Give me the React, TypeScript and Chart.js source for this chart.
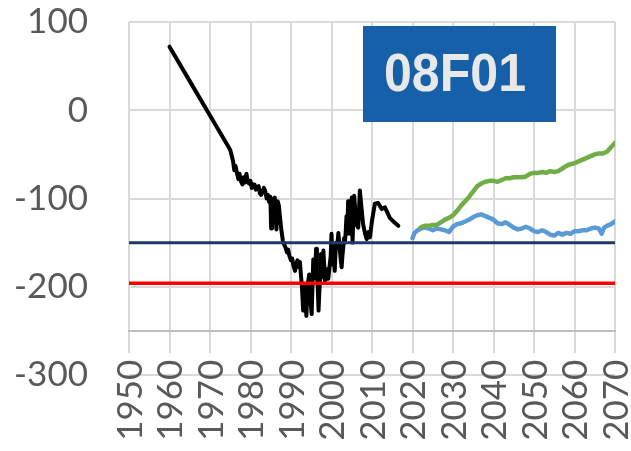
import { useEffect, useRef } from 'react';
import { Chart, registerables } from 'chart.js';

Chart.register(...registerables);

// ---------- data ----------
const yearTicks = [1950, 1960, 1970, 1980, 1990, 2000, 2010, 2020, 2030, 2040, 2050, 2060, 2070];
const valueTicks = [-300, -200, -100, 0, 100];
const axisCrossValue = -250;

const historyYears = [
  1960, 1965, 1970, 1974, 1975, 1975.4, 1975.7, 1976, 1976.3, 1976.6, 1977, 1977.3, 1977.6, 1978,
  1978.3, 1978.6, 1979, 1979.3, 1979.6, 1980, 1980.3, 1980.6, 1981, 1981.3, 1981.6, 1982, 1982.3,
  1982.6, 1983, 1983.3, 1983.6, 1984, 1984.3, 1984.6, 1984.9, 1985.1, 1985.3, 1985.5, 1985.7,
  1986, 1986.2, 1986.4, 1986.7, 1987, 1987.3, 1987.6, 1988, 1988.3, 1988.6, 1989, 1989.3, 1989.6,
  1990, 1990.3, 1990.6, 1991, 1991.3, 1991.6, 1992, 1992.2, 1992.4, 1992.7, 1993, 1993.2, 1993.4,
  1993.6, 1993.8, 1994, 1994.2, 1994.5, 1994.7, 1994.9, 1995.1, 1995.3, 1995.5, 1995.7, 1995.9,
  1996.2, 1996.4, 1996.6, 1996.8, 1997, 1997.2, 1997.4, 1997.6, 1997.8, 1998, 1998.2, 1998.4,
  1998.7, 1999, 1999.2, 1999.5, 1999.8, 2000, 2000.2, 2000.4, 2000.6, 2000.8, 2001, 2001.2,
  2001.4, 2001.7, 2001.9, 2002.1, 2002.3, 2002.5, 2002.7, 2002.9, 2003.1, 2003.3, 2003.5,
  2003.7, 2003.9, 2004.1, 2004.3, 2004.5, 2004.8, 2005, 2005.2, 2005.4, 2005.6, 2005.9, 2006.2,
  2006.6, 2007, 2007.4, 2007.8, 2008.3, 2008.7, 2009.1, 2009.5, 2010, 2010.7, 2011.5, 2012.4,
  2013.2, 2014.4, 2015.5, 2016.5,
];
const historyValues = [
  72, 33, -6, -37, -45, -52, -58, -68, -63, -70, -78, -72, -80, -84,
  -76, -82, -72, -80, -83, -80, -88, -84, -84, -90, -87, -86, -94,
  -96, -92, -88, -91, -100, -96, -104, -98, -134, -108, -101, -106,
  -99, -120, -135, -103, -108, -122, -135, -148, -152, -155, -161, -158, -165,
  -170, -168, -176, -182, -174, -170, -178, -172, -184, -200, -227, -205, -200,
  -222, -233, -210, -195, -186, -205, -220, -231, -200, -169, -185, -190,
  -157, -185, -200, -227, -205, -190, -163, -175, -185, -159, -175, -193,
  -185, -180, -191, -178, -165, -140, -160, -175, -168, -182, -160, -150,
  -155, -139, -150, -160, -170, -178, -165, -156, -145, -150, -138,
  -120, -140, -103, -115, -140, -125, -99, -150, -120, -97, -115, -130,
  -133, -91, -110, -129, -140, -146, -138, -144, -125, -106, -105, -112,
  -110, -122, -127, -131,
];

const blueYears = [
  2020, 2020.5, 2021, 2022, 2023, 2024, 2025, 2026, 2027, 2028, 2029, 2030, 2031, 2032, 2033,
  2034, 2035, 2036, 2037, 2038, 2039, 2040, 2041, 2042, 2043, 2044, 2045, 2046, 2047, 2048,
  2049, 2050, 2051, 2052, 2053, 2054, 2055, 2056, 2057, 2058, 2059, 2060, 2061, 2062, 2063,
  2064, 2065, 2066, 2066.7, 2067.3, 2068, 2069, 2070,
];
const blueValues = [
  -145, -139, -137, -134, -133, -134, -136, -134, -135, -136, -138, -132, -129, -128, -126,
  -124, -121, -119, -118, -120, -122, -124, -128, -129, -127, -130, -133, -135, -134, -132,
  -134, -137, -138, -136, -138, -141, -142, -139, -141, -139, -140, -137, -137, -136, -136,
  -134, -133, -134, -140, -133, -131, -129, -126,
];

const greenYears = [
  2022, 2023, 2024, 2025, 2026, 2027, 2028, 2029, 2030, 2031, 2032, 2033, 2034, 2035, 2036,
  2037, 2038, 2039, 2040, 2041, 2042, 2043, 2044, 2045, 2046, 2047, 2048, 2049, 2050, 2051,
  2052, 2053, 2054, 2055, 2056, 2057, 2058, 2059, 2060, 2061, 2062, 2063, 2064, 2065, 2066,
  2067, 2068, 2069, 2070,
];
const greenValues = [
  -133, -131, -131, -130, -130, -127, -124, -122, -119, -114, -108, -103, -98, -92, -86,
  -83, -81, -80, -80, -81, -79, -77, -77, -76, -76, -76, -75, -72, -71, -71,
  -70, -71, -69, -70, -69, -66, -63, -61, -60, -58, -56, -54, -52, -50, -49,
  -49, -47, -42, -37,
];

const navyLevel = -150;
const redLevel = -196;
const lineSpan = [1950, 2070];
const badgeText = '08F01';

// ---------- helpers ----------
const toPoints = (xs: number[], ys: number[]) => xs.map((x, i) => ({ x, y: ys[i] }));
const levelPoints = (v: number) => lineSpan.map((x) => ({ x, y: v }));

const FONT = 'Lato, "Liberation Sans", sans-serif';
const GRID = '#d9d9d9';
const LABEL_COLOR = '#595959';

// vertical grid lines stop a little below the crossing axis (tick marks), labels drawn rotated
const xAxisPlugin = {
  id: 'xAxisCustom',
  beforeDatasetsDraw(chart: any) {
    const { ctx, chartArea, scales } = chart;
    const xs = scales.x;
    const axisY = scales.y.getPixelForValue(axisCrossValue);
    ctx.save();
    ctx.strokeStyle = GRID;
    ctx.lineWidth = 2;
    xs.ticks.forEach((t: any) => {
      const px = Math.round(xs.getPixelForValue(t.value));
      ctx.beginPath();
      ctx.moveTo(px, chartArea.top);
      ctx.lineTo(px, axisY + 22);
      ctx.stroke();
    });
    // axis line at the crossing value
    ctx.strokeStyle = '#bfbfbf';
    ctx.beginPath();
    ctx.moveTo(chartArea.left - 1, axisY);
    ctx.lineTo(chartArea.right + 1, axisY);
    ctx.stroke();

    // rotated year labels
    let size = 35;
    ctx.font = `${size}px ${FONT}`;
    const w = ctx.measureText(String(yearTicks[0])).width;
    if (w > 81) size = (size * 81) / w;
    ctx.font = `${size}px ${FONT}`;
    const cap = size * 0.72;
    ctx.fillStyle = LABEL_COLOR;
    ctx.textAlign = 'right';
    ctx.textBaseline = 'alphabetic';
    xs.ticks.forEach((t: any) => {
      const px = xs.getPixelForValue(t.value);
      ctx.save();
      ctx.translate(px, axisY + 29);
      ctx.rotate(-Math.PI / 2);
      ctx.fillText(String(t.value), 0, cap / 2);
      ctx.restore();
    });
    ctx.restore();
  },
};

const badgePlugin = {
  id: 'badge',
  afterDraw(chart: any) {
    const { ctx } = chart;
    ctx.save();
    ctx.fillStyle = '#1560A8';
    ctx.fillRect(363, 26, 193, 96);
    ctx.fillStyle = '#E8E8E8';
    ctx.font = 'bold 53px "Liberation Sans", Arial, sans-serif';
    ctx.textAlign = 'center';
    ctx.textBaseline = 'middle';
    ctx.fillText(badgeText, 455, 76, 142);
    ctx.restore();
  },
};

export default function App() {
  const ref = useRef<HTMLCanvasElement | null>(null);

  useEffect(() => {
    document.body.style.margin = '0';
    if (!ref.current) return;
    const chart = new Chart(ref.current, {
      type: 'line',
      data: {
        datasets: [
          { label: 'red', data: levelPoints(redLevel), borderColor: '#FF0000', borderWidth: 3.5, order: 0 },
          { label: 'navy', data: levelPoints(navyLevel), borderColor: '#203864', borderWidth: 3, order: 1 },
          { label: 'history', data: toPoints(historyYears, historyValues), borderColor: '#000000', borderWidth: 4, order: 2 },
          { label: 'green', data: toPoints(greenYears, greenValues), borderColor: '#70AD47', borderWidth: 4.5, order: 3 },
          { label: 'blue', data: toPoints(blueYears, blueValues), borderColor: '#5B9BD5', borderWidth: 4.5, order: 4 },
        ],
      },
      options: {
        animation: false,
        responsive: false,
        parsing: false as any,
        elements: { point: { radius: 0 }, line: { tension: 0, borderJoinStyle: 'round', borderCapStyle: 'round' } },
        layout: { padding: { left: 0, right: 16, top: 22, bottom: 76 } },
        plugins: { legend: { display: false }, tooltip: { enabled: false } },
        scales: {
          x: {
            type: 'linear',
            position: { y: axisCrossValue } as any,
            min: yearTicks[0],
            max: yearTicks[yearTicks.length - 1],
            afterBuildTicks: (s: any) => { s.ticks = yearTicks.map((v) => ({ value: v })); },
            afterFit: (s: any) => { s.paddingLeft = 0; s.paddingRight = 0; },
            ticks: { display: false, autoSkip: false },
            grid: { display: false },
            border: { display: false },
          },
          y: {
            type: 'linear',
            min: valueTicks[0],
            max: valueTicks[valueTicks.length - 1],
            afterBuildTicks: (s: any) => { s.ticks = valueTicks.map((v) => ({ value: v })); },
            afterFit: (s: any) => { s.width = 129; s.paddingTop = 0; s.paddingBottom = 0; },
            ticks: {
              padding: 41,
              color: LABEL_COLOR,
              font: { family: FONT, size: 35 },
              callback: (v: any) => String(v),
            },
            grid: { drawTicks: false, color: GRID, lineWidth: 2 },
            border: { display: false },
          },
        },
      },
      plugins: [xAxisPlugin, badgePlugin],
    });
    return () => chart.destroy();
  }, []);

  return (
    <div style={{ width: 631, height: 451 }}>
      <canvas ref={ref} width={631} height={451} style={{ display: 'block' }} />
    </div>
  );
}
